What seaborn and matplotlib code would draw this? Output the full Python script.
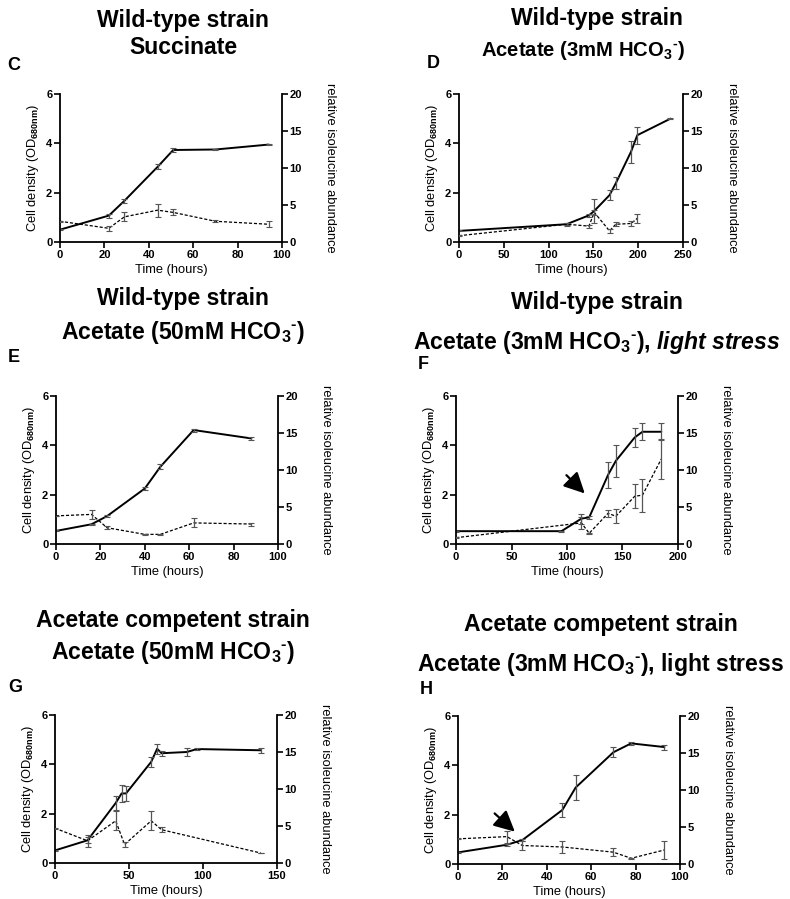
import matplotlib
matplotlib.use("Agg")
import matplotlib.pyplot as plt
import seaborn as sns
import pandas as pd

# ---------------- data ----------------
c_t = [0, 22, 29, 44, 51, 70, 94]
c_od = [0.50, 1.07, 1.67, 3.05, 3.73, 3.75, 3.95]
c_od_err = [0.02, 0.08, 0.08, 0.10, 0.08, 0.04, 0.03]
c_ile_t = [0, 22, 29, 44, 51, 70, 94]
c_ile = [2.8, 1.85, 3.4, 4.3, 4.0, 2.8, 2.4]
c_ile_err = [0.1, 0.3, 0.6, 0.9, 0.4, 0.15, 0.4]

d_t = [0, 120, 145, 151, 168, 175, 192, 199, 236]
d_od = [0.45, 0.72, 1.08, 1.26, 1.9, 2.38, 3.66, 4.33, 5.0]
d_od_err = [0.02, 0.05, 0.05, 0.5, 0.2, 0.25, 0.45, 0.35, 0.03]
d_ile_t = [0, 120, 145, 151, 168, 175, 192, 199]
d_ile = [0.85, 2.4, 2.15, 4.0, 1.5, 2.4, 2.5, 3.2]
d_ile_err = [0.1, 0.2, 0.2, 0.3, 0.3, 0.3, 0.3, 0.6]

e_t = [0, 16, 23, 40, 47, 62, 88]
e_od = [0.53, 0.8, 1.13, 2.25, 3.13, 4.62, 4.28]
e_od_err = [0.02, 0.03, 0.03, 0.08, 0.1, 0.06, 0.05]
e_ile_t = [0, 16, 23, 40, 47, 62, 88]
e_ile = [3.8, 4.0, 2.2, 1.3, 1.3, 2.85, 2.7]
e_ile_err = [0.05, 0.6, 0.2, 0.1, 0.1, 0.6, 0.2]

f_t = [0, 95, 113, 120, 137, 144, 161, 168, 185]
f_od = [0.52, 0.52, 1.03, 1.08, 2.8, 3.37, 4.32, 4.55, 4.55]
f_od_err = [0.02, 0.02, 0.2, 0.05, 0.54, 0.64, 0.4, 0.35, 0.35]
f_ile_t = [0, 113, 120, 137, 144, 161, 168, 185]
f_ile = [0.85, 2.85, 1.45, 4.15, 3.75, 6.45, 6.6, 11.5]
f_ile_err = [0.05, 0.8, 0.1, 0.5, 0.95, 1.65, 2.25, 2.7]

g_t = [0, 22, 41, 45, 48, 65, 69, 72, 89, 96, 139]
g_od = [0.51, 0.92, 2.43, 2.82, 2.82, 4.1, 4.63, 4.45, 4.5, 4.62, 4.57]
g_od_err = [0.02, 0.12, 0.3, 0.33, 0.3, 0.2, 0.2, 0.1, 0.15, 0.05, 0.1]
g_ile_t = [0, 22, 41, 47, 65, 72, 139]
g_ile = [4.7, 3.0, 5.7, 2.5, 5.7, 4.5, 1.35]
g_ile_err = [0.05, 0.8, 1.3, 0.3, 1.3, 0.3, 0.05]

h_t = [0, 22, 29, 47, 53, 70, 78, 93]
h_od = [0.47, 0.78, 0.97, 2.19, 3.1, 4.53, 4.89, 4.74]
h_od_err = [0.02, 0.03, 0.05, 0.3, 0.5, 0.2, 0.05, 0.1]
h_ile_t = [0, 22, 29, 47, 70, 78, 93]
h_ile = [3.4, 3.7, 2.5, 2.3, 1.6, 0.77, 1.9]
h_ile_err = [0.05, 0.8, 0.6, 0.8, 0.5, 0.1, 1.2]

panel_letters = ["C", "D", "E", "F", "G", "H"]
title_line1 = ["Wild-type strain", "Wild-type strain", "Wild-type strain",
               "Wild-type strain", "Acetate competent strain", "Acetate competent strain"]
title_line2 = ["Succinate",
               r"Acetate (3mM HCO$_\mathbf{3}{}^{\text{-}}$)",
               r"Acetate (50mM HCO$_\mathbf{3}{}^{\text{-}}$)",
               r"Acetate (3mM HCO$_\mathbf{3}{}^{\text{-}}$), $\mathbfit{light\ stress}$",
               r"Acetate (50mM HCO$_\mathbf{3}{}^{\text{-}}$)",
               r"Acetate (3mM HCO$_\mathbf{3}{}^{\text{-}}$), light stress"]
x_max = [100, 250, 100, 200, 150, 100]
x_step = [20, 50, 20, 50, 50, 20]

# ---------------- style ----------------
sns.set_style("ticks")
plt.rcParams["font.family"] = ["Liberation Sans", "DejaVu Sans"]
plt.rcParams["mathtext.fontset"] = "custom"
plt.rcParams["mathtext.rm"] = "Liberation Sans:bold"
plt.rcParams["mathtext.bf"] = "Liberation Sans:bold"
plt.rcParams["mathtext.it"] = "Liberation Sans:italic"
plt.rcParams["mathtext.bfit"] = "Liberation Sans:italic:bold"
for k in ["text.color", "axes.labelcolor", "xtick.color", "ytick.color", "axes.edgecolor"]:
    plt.rcParams[k] = "black"

W, H = 790, 899
fig = plt.figure(figsize=(W / 100, H / 100), dpi=100)

# axes boxes in pixel coords (left, top, right, bottom)
boxes = [(60, 94, 282, 242), (459, 94, 683, 242),
         (56, 396, 278, 544), (456, 396, 678, 544),
         (55, 715, 277, 863), (458, 716, 680, 864)]
# title centers (x1, x2, y1, y2) and letter positions (x, y)
title_pos = [(183, 183, 20, 47), (597, 583, 18, 50), (183, 183, 298, 333),
             (597, 597, 302, 343), (173, 173, 620, 653), (601, 601, 625, 665)]
title2_size = [16.6, 14.6, 16.6, 16.6, 16.6, 16.6]
letter_pos = [(7, 65), (427, 63), (8, 357), (418, 365), (8, 688), (420, 690)]

series = [
    (c_t, c_od, c_od_err, c_ile_t, c_ile, c_ile_err),
    (d_t, d_od, d_od_err, d_ile_t, d_ile, d_ile_err),
    (e_t, e_od, e_od_err, e_ile_t, e_ile, e_ile_err),
    (f_t, f_od, f_od_err, f_ile_t, f_ile, f_ile_err),
    (g_t, g_od, g_od_err, g_ile_t, g_ile, g_ile_err),
    (h_t, h_od, h_od_err, h_ile_t, h_ile, h_ile_err),
]

arrows = {3: ((99.5, 2.79), (116, 2.05)), 5: ((16.5, 2.05), (25.6, 1.31))}

for i, (box, ser) in enumerate(zip(boxes, series)):
    l, t, r, b = box
    ax = fig.add_axes([l / W, (H - b) / H, (r - l) / W, (b - t) / H])
    ax2 = ax.twinx()
    tt, od, od_err, it, ile, ile_err = ser
    df_od = pd.DataFrame({"Time": tt, "OD": od})
    df_ile = pd.DataFrame({"Time": it, "Ile": ile})

    sns.lineplot(data=df_ile, x="Time", y="Ile", ax=ax2, color="black",
                 lw=0.9, linestyle=(0, (2.5, 1.5)), errorbar=None)
    ax2.errorbar(it, ile, yerr=ile_err, fmt="none", ecolor="#555555",
                 elinewidth=0.9, capsize=2, capthick=0.8)
    sns.lineplot(data=df_od, x="Time", y="OD", ax=ax, color="black",
                 lw=1.4, errorbar=None)
    ax.errorbar(tt, od, yerr=od_err, fmt="none", ecolor="#555555",
                elinewidth=0.9, capsize=2, capthick=0.8)

    ax.set_xlim(0, x_max[i])
    ax.set_ylim(0, 6)
    ax2.set_ylim(0, 20)
    ax.set_xticks(range(0, x_max[i] + 1, x_step[i]))
    ax.set_yticks([0, 2, 4, 6])
    ax2.set_yticks([0, 5, 10, 15, 20])
    ax.set_xlabel("")
    ax.set_ylabel("")
    ax2.set_ylabel("")

    for a in (ax, ax2):
        a.spines["top"].set_visible(False)
        for s in a.spines.values():
            s.set_linewidth(1.3)
            s.set_color("black")
        a.tick_params(direction="out", length=4, width=1.2, labelsize=8, pad=1.5,
                      colors="black")
        for lab in a.get_xticklabels() + a.get_yticklabels():
            lab.set_fontweight("bold")
    ax.spines["right"].set_visible(False)
    ax2.spines["left"].set_visible(False)
    ax2.spines["bottom"].set_visible(False)

    ax.text(0.5, -0.19, "Time (hours)", transform=ax.transAxes, ha="center",
            va="center", fontsize=9.3)
    ax.text(-0.122, 0.5, r"Cell density (OD$_\mathbf{680nm}$)", transform=ax.transAxes,
            ha="center", va="center", rotation=90, fontsize=9.3)
    ax.text(1.217, 0.5, "relative isoleucine abundance", transform=ax.transAxes,
            ha="center", va="center", rotation=270, fontsize=9.3)

    if i in arrows:
        (x0, y0), (x1, y1) = arrows[i]
        ax.annotate("", xy=(x1, y1), xytext=(x0, y0),
                    arrowprops=dict(arrowstyle="-|>,head_length=0.9,head_width=0.45",
                                    color="black", lw=1.6, mutation_scale=14,
                                    shrinkA=0, shrinkB=0))

    cx1, cx2, y1, y2 = title_pos[i]
    fig.text(cx1 / W, 1 - y1 / H, title_line1[i], ha="center", va="center",
             fontsize=16.6, fontweight="bold")
    fig.text(cx2 / W, 1 - y2 / H, title_line2[i], ha="center", va="center",
             fontsize=title2_size[i], fontweight="bold")
    lx, ly = letter_pos[i]
    fig.text(lx / W, 1 - ly / H, panel_letters[i], ha="left", va="center",
             fontsize=13, fontweight="bold")

fig.savefig("out.png", dpi=100)
